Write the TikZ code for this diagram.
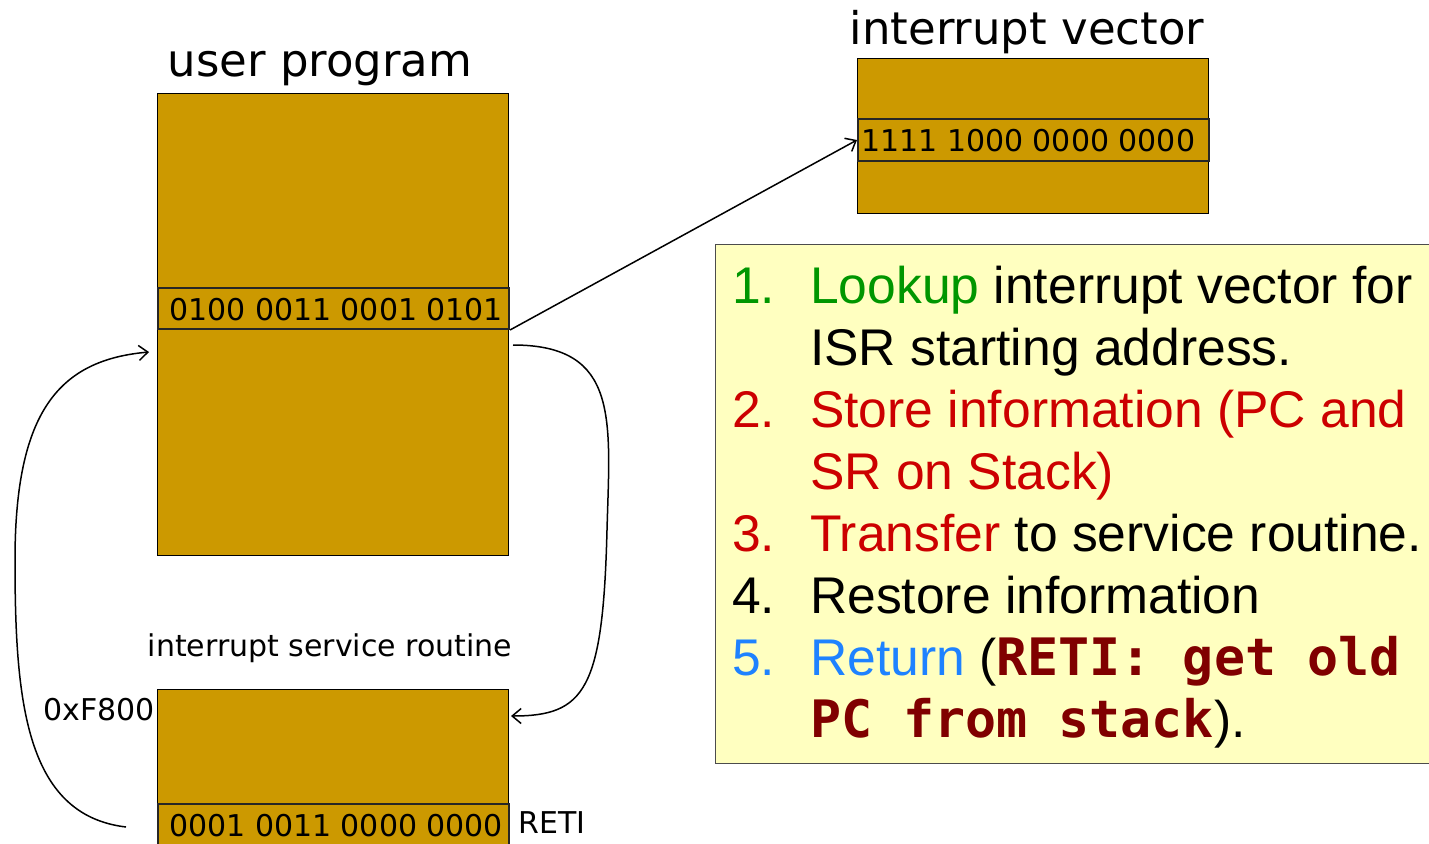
\documentclass[tikz,border=0pt]{standalone}
\usepackage{fontspec}
\setmainfont{Liberation Sans}
\newfontfamily\diagfont{DejaVu Sans}
\newfontfamily\codefont{DejaVu Sans Mono}
\usetikzlibrary{arrows.meta}

\definecolor{memfill}{HTML}{CC9900}
\definecolor{notefill}{HTML}{FFFFC0}
\definecolor{stepgreen}{HTML}{009600}
\definecolor{stepred}{HTML}{CC0000}
\definecolor{stepblue}{HTML}{1E82FF}
\definecolor{codered}{HTML}{800000}

\tikzset{
  membox/.style={draw=black, line width=1.3pt, fill=memfill, inner sep=0pt, anchor=north west},
  memrow/.style={draw=black!85, line width=2pt, fill=memfill, inner sep=0pt, anchor=north west},
  celltext/.style={inner sep=0pt, anchor=base west, font=\diagfont\fontsize{30}{36}\selectfont},
  title/.style={inner sep=0pt, anchor=base, font=\diagfont\fontsize{45}{54}\selectfont},
  sublabel/.style={inner sep=0pt, font=\diagfont\fontsize{30}{36}\selectfont},
  stepnum/.style={inner sep=0pt, anchor=base west, font=\fontsize{51.6}{60}\selectfont},
  steptext/.style={inner sep=0pt, anchor=base west, font=\fontsize{51.6}{60}\selectfont},
  conn/.style={line width=1.5pt, -{Straight Barb[length=9pt,width=15pt,line width=1.5pt]}},
}

\begin{document}
\begin{tikzpicture}[x=1pt, y=-1pt]
\useasboundingbox (0,0) rectangle (1429,843);
\clip (0,0) rectangle (1429,843);

% user program memory
\node[title] (uptitle) at (320,77) {user program};
\node[membox, minimum width=351pt, minimum height=462pt] (up) at (157,93) {};
\node[memrow, minimum width=351pt, minimum height=41pt] (uprow) at (157,287) {};
\node[celltext] (uptxt) at (169,320) {0100 0011 0001 0101};

% interrupt vector table
\node[title] (ivtitle) at (1027,45) {interrupt vector};
\node[membox, minimum width=351pt, minimum height=155pt] (iv) at (857,58) {};
\node[memrow, minimum width=351pt, minimum height=42pt] (ivrow) at (857,118) {};
\node[celltext] (ivtxt) at (861,151) {1111 1000 0000 0000};

% interrupt service routine
\node[sublabel, anchor=base] (isrtitle) at (330,656) {interrupt service routine};
\node[membox, minimum width=351pt, minimum height=175pt] (isr) at (157,689) {};
\node[memrow, minimum width=351pt, minimum height=60pt] (isrrow) at (157,803) {};
\node[celltext] (isrtxt) at (169,836) {0001 0011 0000 0000};
\node[sublabel, anchor=base east] (addr) at (155,720) {0xF800};
\node[sublabel, anchor=base west] (reti) at (518,833) {RETI};

% step list
\node[draw=black!70, line width=1.2pt, fill=notefill, inner sep=0pt, anchor=north west,
      minimum width=740pt, minimum height=519pt] (notes) at (715,244) {};
\node[stepnum, text=stepgreen] (n1) at (732,303) {1.};
\node[steptext] (t1) at (810,303) {\textcolor{stepgreen}{Lookup} interrupt vector for};
\node[steptext] (t1b) at (810,365) {ISR starting address.};
\node[stepnum, text=stepred] (n2) at (732,427) {2.};
\node[steptext, text=stepred] (t2) at (810,427) {Store information (PC and};
\node[steptext, text=stepred] (t2b) at (810,489) {SR on Stack)};
\node[stepnum, text=stepred] (n3) at (732,551) {3.};
\node[steptext] (t3) at (810,551) {\textcolor{stepred}{Transfer} to service routine.};
\node[stepnum] (n4) at (732,613) {4.};
\node[steptext] (t4) at (810,613) {Restore information};
\node[stepnum, text=stepblue] (n5) at (732,675) {5.};
\node[steptext] (t5) at (810,675) {\textcolor{stepblue}{Return} (\textcolor{codered}{\codefont\bfseries RETI: get old}};
\node[steptext] (t5b) at (810,737) {\textcolor{codered}{\codefont\bfseries PC from stack}).};

% control flow
\draw[conn] (uprow.south east) -- (ivrow.west);

\coordinate (jmpstart) at (513,345);
\coordinate (jmpmid) at (607,530);
\coordinate (jmpend) at (511,716);
\draw[conn] (jmpstart) .. controls (620,345) and (610,420) .. (jmpmid)
            .. controls (603,690) and (585,716) .. (jmpend);

\coordinate (retstart) at (126,827);
\coordinate (retmid) at (15,560);
\coordinate (retend) at (149,352);
\draw[conn] (retstart) .. controls (25,815) and (15,700) .. (retmid)
            .. controls (15,410) and (60,360) .. (retend);
\end{tikzpicture}
\end{document}
